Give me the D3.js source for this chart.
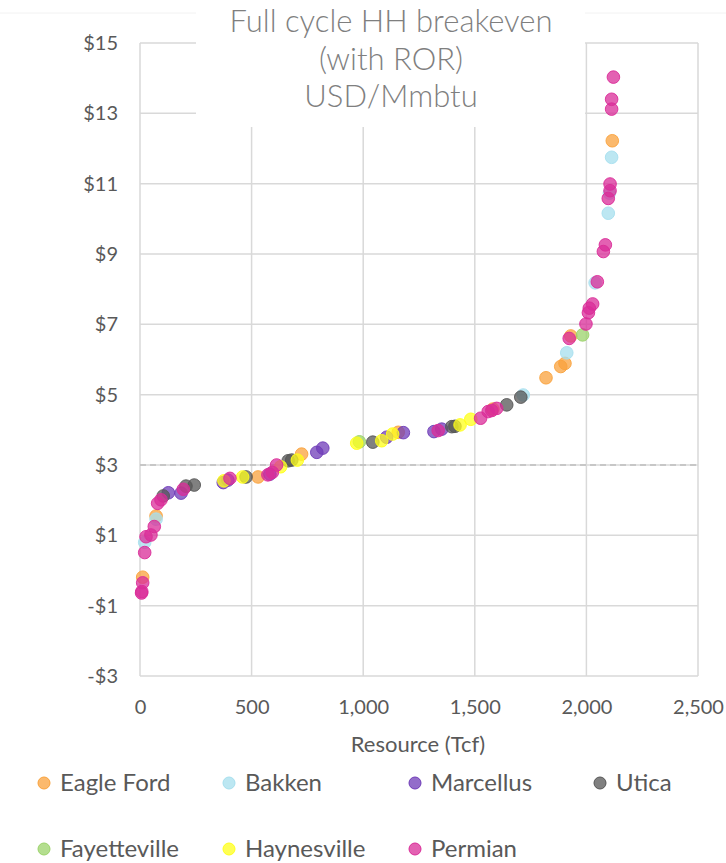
<!DOCTYPE html>
<html>
<head>
<meta charset="utf-8">
<script src="https://cdn.jsdelivr.net/npm/d3@7"></script>
<style>
  html, body { margin: 0; padding: 0; background: #fff; }
  svg { display: block; }
</style>
</head>
<body>
<svg id="chart" width="726" height="863"></svg>
<script>
// ---- Data (Resource Tcf, breakeven USD/Mmbtu) ----
const seriesNames = ["Eagle Ford", "Bakken", "Marcellus", "Utica", "Fayetteville", "Haynesville", "Permian"];
const seriesColors = ["#F9A23C", "#A6DFEE", "#6F3CB8", "#555555", "#9BD36A", "#FFFF1A", "#DA2C98"];

const eagleFord = [[12,-0.19],[72,1.55],[529,2.66],[724,3.31],[1157,3.93],[1581,4.59],[1819,5.48],[1885,5.80],[1904,5.89],[1930,6.67],[2116,12.22]];
const bakken = [[21,0.80],[72,1.46],[1717,4.99],[1912,6.19],[2039,8.18],[2098,10.16],[2103,10.73],[2113,11.75]];
const marcellus = [[127,2.21],[184,2.20],[373,2.50],[394,2.57],[582,2.74],[792,3.36],[819,3.48],[1105,3.79],[1180,3.92],[1317,3.95],[1352,4.02]];
const utica = [[104,2.12],[206,2.40],[243,2.43],[475,2.66],[664,3.12],[680,3.14],[1043,3.65],[1397,4.09],[1411,4.10],[1643,4.71],[1706,4.93]];
const fayetteville = [[983,3.66],[1983,6.70]];
const haynesville = [[376,2.55],[460,2.66],[630,2.95],[705,3.14],[971,3.62],[1083,3.69],[1132,3.88],[1434,4.14],[1482,4.30]];
const permian = [[8,-0.60],[7,-0.64],[12,-0.35],[21,0.51],[27,0.96],[49,1.01],[64,1.25],[79,1.91],[94,2.01],[194,2.31],[403,2.62],[573,2.72],[593,2.79],[612,3.00],[1336,3.98],[1526,4.33],[1560,4.52],[1576,4.55],[1598,4.61],[1923,6.60],[1998,7.01],[2009,7.33],[2013,7.46],[2028,7.58],[2049,8.21],[2076,9.07],[2085,9.26],[2098,10.58],[2106,10.80],[2106,10.99],[2113,13.12],[2113,13.40],[2121,14.03]];

const seriesData = [eagleFord, bakken, marcellus, utica, fayetteville, haynesville, permian];

const xTicks = [0, 500, 1000, 1500, 2000, 2500];
const yTicks = [-3, -1, 1, 3, 5, 7, 9, 11, 13, 15];
const refLine = 3;
const titleLines = ["Full cycle HH breakeven", "(with ROR)", "USD/Mmbtu"];
const xTitle = "Resource (Tcf)";

// ---- Drawing ----
const svg = d3.select("#chart");
const font = "Lato, 'Open Sans', sans-serif";
const plot = { left: 140, right: 698, top: 43, bottom: 676 };

const x = d3.scaleLinear().domain([0, 2500]).range([plot.left, plot.right]);
const y = d3.scaleLinear().domain([-3, 15]).range([plot.bottom, plot.top]);

// faint outer chart border line at top
svg.append("line").attr("x1", 0).attr("x2", 726).attr("y1", 13).attr("y2", 13)
  .attr("stroke", "#f2f2f2").attr("stroke-width", 1);

// gridlines
const grid = svg.append("g");
grid.selectAll("line.h").data(yTicks).join("line")
  .attr("x1", plot.left).attr("x2", plot.right)
  .attr("y1", d => y(d)).attr("y2", d => y(d))
  .attr("stroke", "#d9d9d9").attr("stroke-width", 1.5);
grid.selectAll("line.v").data(xTicks).join("line")
  .attr("x1", d => x(d)).attr("x2", d => x(d))
  .attr("y1", plot.top).attr("y2", plot.bottom)
  .attr("stroke", "#d9d9d9").attr("stroke-width", 1.5);

// axes (tick labels only)
const xAxis = d3.axisBottom(x).tickValues(xTicks).tickSize(0).tickPadding(0)
  .tickFormat(d3.format(","));
const gx = svg.append("g").attr("transform", `translate(0,${plot.bottom + 24})`).call(xAxis);
gx.select(".domain").remove();
gx.selectAll("text").attr("font-family", font).attr("font-size", 20).attr("fill", "#595959")
  .attr("dy", "0.71em");

const yAxis = d3.axisLeft(y).tickValues(yTicks).tickSize(0).tickPadding(0)
  .tickFormat(d => (d < 0 ? "-$" : "$") + Math.abs(d));
const gy = svg.append("g").attr("transform", `translate(${plot.left - 22},0)`).call(yAxis);
gy.select(".domain").remove();
gy.selectAll("text").attr("font-family", font).attr("font-size", 20).attr("fill", "#595959");

// reference dashed line at $3
svg.append("line")
  .attr("x1", plot.left).attr("x2", plot.right)
  .attr("y1", y(refLine)).attr("y2", y(refLine))
  .attr("stroke", "#bfbfbf").attr("stroke-width", 1.5).attr("stroke-dasharray", "6,4");

// points
seriesData.forEach((data, i) => {
  svg.append("g").selectAll("circle").data(data).join("circle")
    .attr("cx", d => x(d[0])).attr("cy", d => y(d[1]))
    .attr("r", 6.3)
    .attr("fill", seriesColors[i]).attr("fill-opacity", 0.75)
    .attr("stroke", seriesColors[i]).attr("stroke-opacity", 0.9).attr("stroke-width", 1);
});

// title box
svg.append("rect").attr("x", 196).attr("y", 0).attr("width", 389).attr("height", 127).attr("fill", "#fff");
svg.append("text").attr("x", 391).attr("y", 32).attr("text-anchor", "middle")
  .attr("font-family", font).attr("font-weight", 300).attr("font-size", 31).attr("fill", "#7f7f7f")
  .selectAll("tspan").data(titleLines).join("tspan")
  .attr("x", 391).attr("dy", (d, i) => i === 0 ? 0 : 37.5).text(d => d);

// x axis title
svg.append("text").attr("x", 418).attr("y", 752).attr("text-anchor", "middle")
  .attr("font-family", font).attr("font-size", 22).attr("fill", "#595959").text(xTitle);

// legend
const legendPos = [[44, 783], [229, 783], [415, 783], [600, 783], [44, 849], [229, 849], [415, 849]];
const lg = svg.append("g");
seriesNames.forEach((name, i) => {
  const [lx, ly] = legendPos[i];
  lg.append("circle").attr("cx", lx).attr("cy", ly).attr("r", 6)
    .attr("fill", seriesColors[i]).attr("fill-opacity", 0.75)
    .attr("stroke", seriesColors[i]).attr("stroke-width", 1);
  lg.append("text").attr("x", lx + 16).attr("y", ly).attr("dy", "0.35em")
    .attr("font-family", font).attr("font-size", 24).attr("fill", "#595959").text(name);
});
</script>
</body>
</html>
